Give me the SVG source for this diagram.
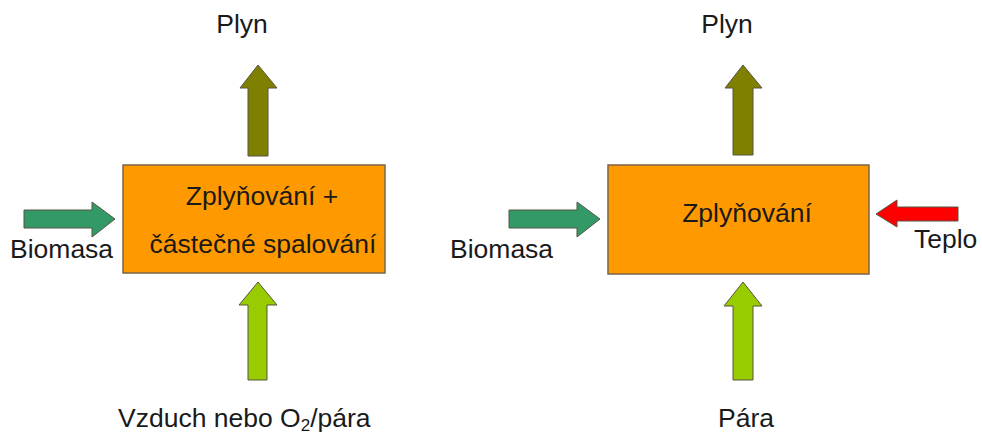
<svg xmlns="http://www.w3.org/2000/svg" width="982" height="436" viewBox="0 0 982 436">
<style>
text{font-family:"Liberation Sans",Arial,sans-serif;font-size:26.5px;fill:#1a1a1a}
.box{fill:#FF9900;stroke:#7a6448;stroke-width:1.5}
.arr{stroke:#555544;stroke-width:1}
.olive{fill:#808000}
.teal{fill:#339966}
.lime{fill:#99CC00}
.red{fill:#FF0000}
</style>
<rect width="982" height="436" fill="#ffffff"/>
<g id="node-left">
<rect class="box" x="123" y="165" width="262" height="108"/>
<text x="262" y="205" text-anchor="middle">Zplyňování +</text>
<text x="263" y="253" text-anchor="middle">částečné spalování</text>
</g>
<g id="node-right">
<rect class="box" x="608" y="165" width="261" height="109"/>
<text x="747" y="222" text-anchor="middle">Zplyňování</text>
</g>
<g id="labels">
<text x="242" y="33" text-anchor="middle">Plyn</text>
<text x="727" y="33" text-anchor="middle">Plyn</text>
<text x="10" y="258">Biomasa</text>
<text x="450" y="258">Biomasa</text>
<text x="914" y="248">Teplo</text>
<text x="118" y="427">Vzduch nebo O<tspan font-size="17" dy="4">2</tspan><tspan dy="-4">/pára</tspan></text>
<text x="746" y="427" text-anchor="middle">Pára</text>
</g>
<g id="connectors">
<polygon class="arr olive" points="248,156 248,88 240,88 258,65 277,88 268,88 268,156"/>
<polygon class="arr olive" points="733,155 733,88 725,88 743,65 762,88 753,88 753,155"/>
<polygon class="arr teal" points="24,210 92,210 92,202 115,219 92,237 92,228 24,228"/>
<polygon class="arr teal" points="509,210 577,210 577,202 600,219 577,237 577,228 509,228"/>
<polygon class="arr lime" points="248,380 248,305 239,305 258,282 277,305 267,305 267,380"/>
<polygon class="arr lime" points="733,380 733,306 724,306 743,282 762,306 753,306 753,380"/>
<polygon class="arr red" points="958,207 897,207 897,200 876,214 897,227 897,221 958,221"/>
</g>
</svg>
